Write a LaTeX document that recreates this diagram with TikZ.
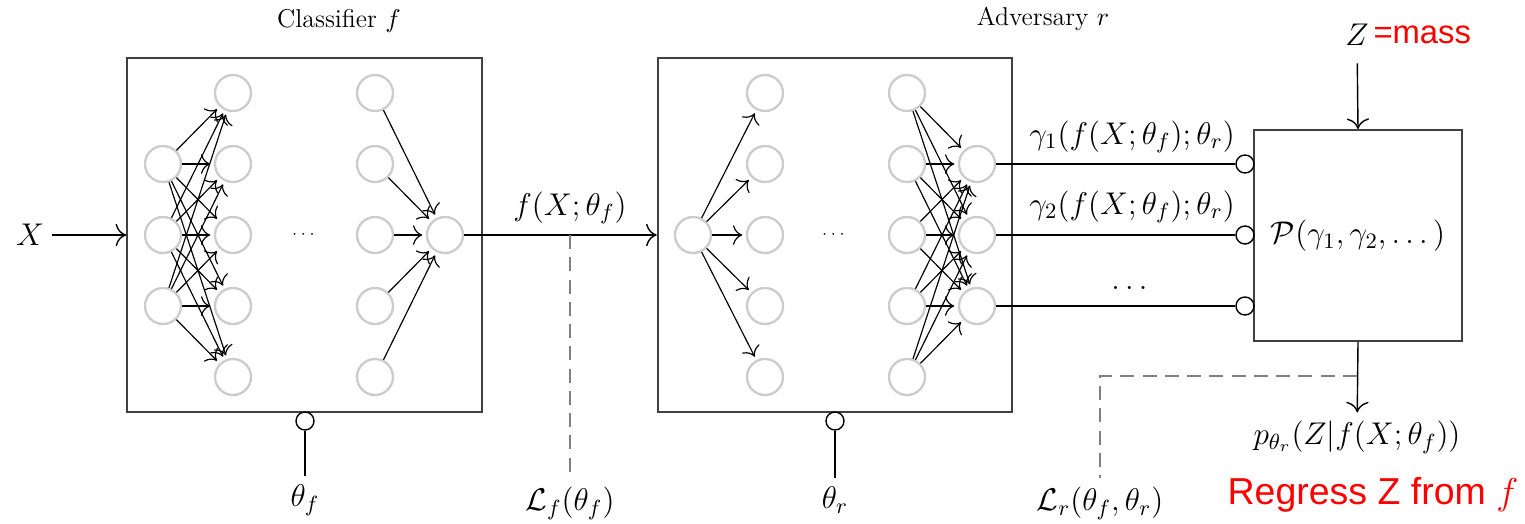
\RequirePackage{fix-cm}
\documentclass[tikz,border=0pt]{standalone}
\usepackage{fontspec}
\usepackage{amsmath,amssymb}
\usetikzlibrary{arrows.meta,positioning}
\newfontfamily\redsans{Liberation Sans}

\begin{document}
\begin{tikzpicture}[
    x=0.015cm, y=-0.015cm,
    every node/.style={font=\fontsize{13.4}{16}\selectfont},
    neuron/.style={circle, draw=gray!40, line width=1pt, minimum size=0.54cm, inner sep=0pt},
    netbox/.style={draw=black!75, line width=0.8pt, minimum width=5.32cm, minimum height=5.3cm, inner sep=0pt},
    port/.style={circle, draw, fill=white, line width=0.6pt, minimum size=0.27cm, inner sep=0pt},
    conn/.style={-{To[length=1.4mm]}, line width=0.5pt, shorten >=1.5pt},
    flow/.style={-{To[length=1.6mm]}, line width=0.6pt},
    loss/.style={gray, line width=0.7pt, dash pattern=on 6pt off 3.5pt},
    redtext/.style={text=red, font={\redsans\fontsize{#1}{#1}\selectfont}}
]
\useasboundingbox (0,0) rectangle (1525,523);

\node[netbox] (cbox) at (304.5,235) {};
\node[netbox] (abox) at (835,235) {};
\node[draw=black!75, line width=0.8pt, minimum width=3.12cm, minimum height=3.165cm, inner sep=0pt] (pbox) at (1358,235.5) {$\mathcal{P}(\gamma_1,\gamma_2,\dots)$};
\node[font=\fontsize{11}{13}\selectfont] (clab) at (339,21) {Classifier $f$};
\node[font=\fontsize{11}{13}\selectfont] (alab) at (1043,19) {Adversary $r$};

% classifier
\foreach \i in {2,3,4}
    \node[neuron] (ci\i) at (163,22+71*\i) {};
\foreach \i in {1,...,5} {
    \node[neuron] (ch\i) at (233,22+71*\i) {};
    \node[neuron] (cl\i) at (375,22+71*\i) {};
}
\node[neuron] (cout) at (445,235) {};
\node[font=\scriptsize] (cdots) at (305,235) {$\cdots$};
\foreach \i in {2,3,4}
    \foreach \j in {1,...,5}
        \draw[conn] (ci\i) -- (ch\j);
\foreach \i in {1,...,5}
    \draw[conn] (cl\i) -- (cout);

% adversary
\node[neuron] (ain) at (693,235) {};
\foreach \i in {1,...,5} {
    \node[neuron] (ah\i) at (765,22+71*\i) {};
    \node[neuron] (al\i) at (907,22+71*\i) {};
}
\foreach \i in {2,3,4}
    \node[neuron] (ao\i) at (977,22+71*\i) {};
\node[font=\scriptsize] (adots) at (835,235) {$\cdots$};
\foreach \j in {1,...,5}
    \draw[conn] (ain) -- (ah\j);
\foreach \i in {1,...,5}
    \foreach \j in {2,3,4}
        \draw[conn] (al\i) -- (ao\j);

% inputs, outputs and losses
\node (X) at (30,235) {$X$};
\node (fx) at (570,208) {$f(X;\theta_f)$};
\coordinate (fxdrop) at (570,235);
\node (Lf) at (570,503) {$\mathcal{L}_f(\theta_f)$};
\node[port] (pf) at (305,421) {};
\node (thf) at (305,500) {$\theta_f$};
\node[port] (pr) at (835,421) {};
\node (thr) at (835,500) {$\theta_r$};
\foreach \i in {2,3,4}
    \node[port] (pg\i) at (1245,22+71*\i) {};
\node (g1) at (1132,137) {$\gamma_1(f(X;\theta_f);\theta_r)$};
\node (g2) at (1132,207) {$\gamma_2(f(X;\theta_f);\theta_r)$};
\node (gdots) at (1132,288) {$\dots$};
\node (Z) at (1357,35) {$Z$};
\node[redtext=14, right=-5pt of Z] (mass) {=mass};
\node (pz) at (1357,437) {$p_{\theta_r}(Z|f(X;\theta_f))$};
\coordinate (lrdrop) at (1357,376);
\node (Lr) at (1100,503) {$\mathcal{L}_r(\theta_f,\theta_r)$};
\node[redtext=16] (regress) at (1373,495) {Regress Z from $f$};

\draw[flow] (X) -- (cbox.west);
\draw[flow] (cout) -- (abox.west);
\draw[loss] (fxdrop) -- (Lf);
\draw[line width=0.6pt] (pf) -- (thf);
\draw[line width=0.6pt] (pr) -- (thr);
\foreach \i in {2,3,4}
    \draw[line width=0.6pt] (ao\i) -- (pg\i);
\draw[flow, shorten <=4pt] (Z) -- (pbox.north);
\draw[flow] (pbox.south) -- (pz);
\draw[loss] (lrdrop) -| (Lr);
\end{tikzpicture}
\end{document}
